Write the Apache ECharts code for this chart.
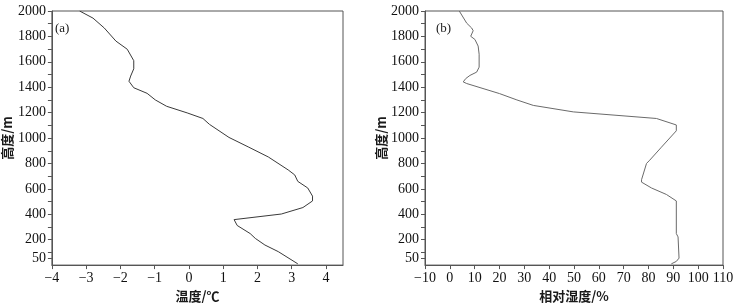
<!DOCTYPE html>
<html>
<head>
<meta charset="utf-8">
<script src="https://cdn.jsdelivr.net/npm/echarts@6/dist/echarts.min.js"></script>
<style>
html,body{margin:0;padding:0;background:#fff;}
#chart{width:739px;height:308px;}
</style>
</head>
<body>
<div id="chart"></div>
<script>
// Panel (a): temperature profile
var heightsA = [2000,1944,1866,1763,1699,1609,1545,1488,1447,1396,1352,1300,1250,1198,1154,1108,1005,928,851,749,710,659,607,543,505,453,402,358,312,248,210,158,106,10];
var tempA    = [-3.19,-2.80,-2.47,-2.13,-1.80,-1.61,-1.61,-1.70,-1.75,-1.61,-1.22,-0.98,-0.65,-0.05,0.41,0.60,1.17,1.75,2.32,2.90,3.09,3.18,3.47,3.61,3.61,3.33,2.70,1.32,1.41,1.79,1.94,2.22,2.61,3.18];
// Panel (b): relative humidity profile
var heightsB = [2000,1904,1866,1845,1801,1776,1724,1660,1558,1519,1493,1468,1442,1429,1350,1300,1257,1206,1154,1103,1057,928,826,800,672,653,607,556,505,248,222,55,29,10];
var rhB      = [3.8,6.8,8.8,9.4,8.4,10.1,11.4,11.8,11.8,10.8,8.1,6.4,5.4,6.8,20.0,27.0,33.6,49.7,83.2,91.2,91.2,85.2,80.5,79.2,77.2,77.2,81.2,87.2,91.2,91.2,91.9,92.3,91.2,89.2];
// Tick labels
var yLabels = [50,200,400,600,800,1000,1200,1400,1600,1800,2000];
var yTicks = [50,100,200,300,400,500,600,700,800,900,1000,1100,1200,1300,1400,1500,1600,1700,1800,1900,2000];
var xLabelsA = [-4,-3,-2,-1,0,1,2,3,4];
var xLabelsB = [-10,0,10,20,30,40,50,60,70,80,90,100,110];
var panelTags = ['(a)','(b)'];
var xNames = ['温度/℃','相对湿度/%'];
var yName = '高度/m';

function pairs(hs, vs){ return hs.map(function(h,i){ return [vs[i], h]; }); }
function fmt(v){ return v < 0 ? '\u2212' + Math.abs(v) : String(v); }

var serif = "'Liberation Serif', 'Times New Roman', serif";
var cjk = "'Noto Sans CJK SC', sans-serif";
var axisCol = '#555';
var labelStyle = {fontFamily: serif, fontSize: 14, color: '#111', fontWeight: 'normal'};

function xAxis(idx, min, max, labels, name){
  return {
    type:'value', gridIndex: idx, min:min, max:max,
    name: name, nameLocation:'middle', nameGap: 22,
    nameTextStyle:{fontFamily: cjk, fontSize: 13, color:'#1a1a1a', fontWeight:'bold'},
    axisLine:{show:true, onZero:false, lineStyle:{color:axisCol, width:1}},
    axisTick:{show:true, length:4, customValues: labels, lineStyle:{color:axisCol}},
    axisLabel:Object.assign({customValues: labels, formatter: fmt, margin: 6}, labelStyle),
    splitLine:{show:false}
  };
}
function yAxis(idx){
  return {
    type:'value', gridIndex: idx, min:0, max:2000,
    name: yName, nameLocation:'middle', nameGap: 35, nameRotate: 90,
    nameTextStyle:{fontFamily: cjk, fontSize: 13, color:'#1a1a1a', fontWeight:'bold'},
    axisLine:{show:true, onZero:false, lineStyle:{color:axisCol, width:1}},
    axisTick:{show:true, length:4, customValues: yTicks, lineStyle:{color:axisCol}},
    axisLabel:Object.assign({customValues: yLabels, formatter: function(v){ return String(v); }, margin: 6}, labelStyle),
    splitLine:{show:false}
  };
}

var chart = echarts.init(document.getElementById('chart'), null, {renderer:'canvas'});
chart.setOption({
  animation:false,
  backgroundColor:'#fff',
  title:[
    {text: panelTags[0], left: 50, top: 17, textStyle:{fontFamily: serif, fontSize: 13, fontWeight:'normal', color:'#1a1a1a'}},
    {text: panelTags[1], left: 431, top: 17, textStyle:{fontFamily: serif, fontSize: 13, fontWeight:'normal', color:'#1a1a1a'}}
  ],
  grid:[
    {left: 47, right: 396, top: 11, bottom: 38, show:true, borderColor: axisCol, borderWidth:1, backgroundColor:'transparent'},
    {left: 425, right: 16, top: 11, bottom: 38, show:true, borderColor: axisCol, borderWidth:1, backgroundColor:'transparent'}
  ],
  xAxis:[ xAxis(0, -4, 4.5, xLabelsA, xNames[0]), xAxis(1, -10, 110, xLabelsB, xNames[1]) ],
  yAxis:[ yAxis(0), yAxis(1) ],
  series:[
    {type:'line', xAxisIndex:0, yAxisIndex:0, data: pairs(heightsA, tempA), showSymbol:false, symbol:'none',
      lineStyle:{color:'#3a3a3a', width:1}},
    {type:'line', xAxisIndex:1, yAxisIndex:1, data: pairs(heightsB, rhB), showSymbol:false, symbol:'none',
      lineStyle:{color:'#6a6a6a', width:1}}
  ]
});
</script>
</body>
</html>
